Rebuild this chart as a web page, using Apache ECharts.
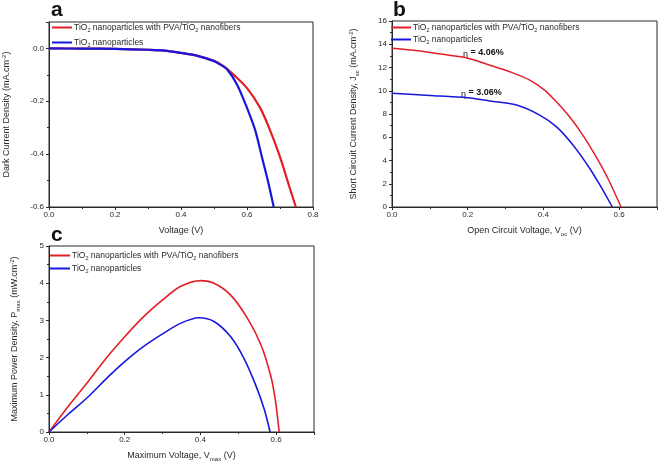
<!DOCTYPE html>
<html><head><meta charset="utf-8">
<script src="https://cdn.jsdelivr.net/npm/echarts@6/dist/echarts.min.js"></script>
<style>html,body{margin:0;padding:0;background:#fff}#c{width:658px;height:463px}</style>
</head><body><div id="c"></div>
<script>
const seriesNames = ['TiO2 nanoparticles with PVA/TiO2 nanofibers', 'TiO2 nanoparticles'];
const legendLabels = ['TiO{s|2} nanoparticles with PVA/TiO{s|2} nanofibers', 'TiO{s|2} nanoparticles'];

// Panel a: dark current density
const aRedV  = [0, 0.1, 0.2, 0.3, 0.35, 0.4, 0.45, 0.5, 0.53, 0.56, 0.6, 0.64, 0.67, 0.70, 0.725, 0.748];
const aRedJ  = [0, -0.0005, -0.002, -0.005, -0.008, -0.017, -0.028, -0.047, -0.068, -0.1, -0.15, -0.225, -0.31, -0.41, -0.51, -0.6];
const aBlueV = [0, 0.1, 0.2, 0.3, 0.35, 0.4, 0.45, 0.5, 0.52, 0.54, 0.57, 0.6, 0.625, 0.645, 0.665, 0.681];
const aBlueJ = [0, -0.0005, -0.002, -0.005, -0.008, -0.017, -0.028, -0.048, -0.062, -0.08, -0.137, -0.225, -0.31, -0.41, -0.51, -0.6];

// Panel b: J-V
const bRedV  = [0, 0.05, 0.1, 0.15, 0.2, 0.259, 0.311, 0.364, 0.403, 0.434, 0.469, 0.504, 0.539, 0.57, 0.605];
const bRedJ  = [13.65, 13.5, 13.3, 13.05, 12.8, 12.2, 11.64, 10.92, 10.06, 9.06, 7.77, 6.19, 4.33, 2.47, 0];
const bBlueV = [0, 0.1, 0.2, 0.259, 0.329, 0.39, 0.434, 0.478, 0.522, 0.557, 0.582];
const bBlueJ = [9.78, 9.6, 9.4, 9.12, 8.77, 7.91, 6.91, 5.33, 3.33, 1.46, 0];

// Panel c: power density
const cRedV  = [0, 0.05, 0.103, 0.15, 0.2, 0.25, 0.3, 0.347, 0.4, 0.436, 0.48, 0.524, 0.56, 0.586, 0.598, 0.608];
const cRedP  = [0, 0.68, 1.35, 1.97, 2.56, 3.1, 3.55, 3.91, 4.07, 4.0, 3.68, 3.06, 2.34, 1.5, 0.85, 0];
const cBlueV = [0, 0.05, 0.103, 0.15, 0.2, 0.25, 0.302, 0.347, 0.396, 0.436, 0.48, 0.515, 0.546, 0.568, 0.584];
const cBlueP = [0, 0.47, 0.94, 1.42, 1.89, 2.3, 2.65, 2.92, 3.07, 2.97, 2.56, 1.98, 1.26, 0.63, 0];

const annotations = ['{e|η} = 4.06%', '{e|η} = 3.06%'];

const zip = (a, b) => a.map((v, i) => [v, b[i]]);
const RED = '#e41e26', BLUE = '#1818dc';
const FONT = 'Liberation Sans, Arial, sans-serif';
const AX = '#2a2a2a';

const nameRich = {
  sub: { fontSize: 6, fontFamily: FONT, color: AX, verticalAlign: 'bottom', lineHeight: 12 },
  sup: { fontSize: 6, fontFamily: FONT, color: AX, verticalAlign: 'top', lineHeight: 12 }
};

function xAx(grid, max, name, gap) {
  return {
    gridIndex: grid, type: 'value', min: 0, max: max, interval: 0.2,
    axisLine: { show: true, onZero: false, lineStyle: { color: AX, width: 1 } },
    axisTick: { show: true, length: 3, lineStyle: { color: AX } },
    minorTick: { show: true, splitNumber: 2, length: 2, lineStyle: { color: AX } },
    splitLine: { show: false },
    axisLabel: { fontSize: 8, color: AX, fontFamily: FONT, margin: 4, showMaxLabel: max !== 0.7,
      formatter: v => v.toFixed(1) },
    name: name, nameLocation: 'middle', nameGap: gap,
    nameTextStyle: { fontSize: 9, color: AX, fontFamily: FONT, lineHeight: 12, rich: nameRich }
  };
}
function yAx(grid, min, max, interval, dec, name, gap, showMax) {
  return {
    gridIndex: grid, type: 'value', min: min, max: max, interval: interval,
    axisLine: { show: true, onZero: false, lineStyle: { color: AX, width: 1 } },
    axisTick: { show: true, length: 3, lineStyle: { color: AX } },
    minorTick: { show: true, splitNumber: 2, length: 2, lineStyle: { color: AX } },
    splitLine: { show: false },
    axisLabel: { fontSize: 8, color: AX, fontFamily: FONT, margin: 5, showMaxLabel: showMax,
      formatter: v => v.toFixed(dec) },
    name: name, nameLocation: 'middle', nameGap: gap, nameRotate: 90,
    nameTextStyle: { fontSize: 9, color: AX, fontFamily: FONT, lineHeight: 12, rich: nameRich }
  };
}
function legendAt(left, top, gap) {
  return {
    left: left, top: top, orient: 'vertical', itemGap: gap, itemWidth: 20, itemHeight: 2, icon: 'rect',
    selectedMode: false, padding: 0,
    data: seriesNames,
    formatter: n => legendLabels[seriesNames.indexOf(n)],
    textStyle: { fontSize: 8.5, color: AX, fontFamily: FONT, padding: [0, 0, 0, -3],
      rich: { s: { fontSize: 5.5, fontFamily: FONT, color: AX, verticalAlign: 'bottom', lineHeight: 11 } } }
  };
}
function line(name, data, xi, color, w) {
  return { type: 'line', name: name, xAxisIndex: xi, yAxisIndex: xi, data: data, showSymbol: false,
    smooth: 0.3, color: color, lineStyle: { color: color, width: w }, animation: false, silent: true };
}

const chart = echarts.init(document.getElementById('c'), null, { renderer: 'canvas' });
chart.setOption({
  animation: false,
  backgroundColor: '#fff',
  grid: [
    { left: 49, top: 22, width: 264, height: 185, show: true, borderColor: AX, borderWidth: 1, backgroundColor: 'transparent' },
    { left: 392, top: 21, width: 265, height: 186, show: true, borderColor: AX, borderWidth: 1, backgroundColor: 'transparent' },
    { left: 49, top: 246, width: 265, height: 186, show: true, borderColor: AX, borderWidth: 1, backgroundColor: 'transparent' }
  ],
  xAxis: [
    xAx(0, 0.8, 'Voltage (V)', 18),
    xAx(1, 0.7, 'Open Circuit Voltage, V{sub|oc} (V)', 18),
    xAx(2, 0.7, 'Maximum Voltage, V{sub|max} (V)', 18)
  ],
  yAxis: [
    yAx(0, -0.6, 0.1, 0.2, 1, 'Dark Current Density (mA.cm{sup|-2})', 36, false),
    yAx(1, 0, 16, 2, 0, 'Short Circuit Current Density, J{sub|sc} (mA.cm{sup|-2})', 32, true),
    yAx(2, 0, 5, 1, 0, 'Maximum Power Density, P{sub|max} (mW.cm{sup|-2})', 28, true)
  ],
  legend: [legendAt(52, 23, 5), legendAt(391, 23, 2), legendAt(50, 251, 3)],
  series: [
    line(seriesNames[0], zip(aRedV, aRedJ), 0, RED, 2.2),
    line(seriesNames[1], zip(aBlueV, aBlueJ), 0, BLUE, 2.2),
    line(seriesNames[0], zip(bRedV, bRedJ), 1, RED, 1.5),
    line(seriesNames[1], zip(bBlueV, bBlueJ), 1, BLUE, 1.5),
    line(seriesNames[0], zip(cRedV, cRedP), 2, RED, 1.6),
    line(seriesNames[1], zip(cBlueV, cBlueP), 2, BLUE, 1.6)
  ],
  graphic: [
    { type: 'text', style: { text: 'a', x: 51, y: 10, verticalAlign: 'middle', font: 'bold 21px ' + FONT, fill: '#111' } },
    { type: 'text', style: { text: 'b', x: 393, y: 10, verticalAlign: 'middle', font: 'bold 21px ' + FONT, fill: '#111' } },
    { type: 'text', style: { text: 'c', x: 51, y: 235, verticalAlign: 'middle', font: 'bold 21px ' + FONT, fill: '#111' } },
    { type: 'text', style: { text: annotations[0], x: 463, y: 53, verticalAlign: 'middle', font: 'bold 9px ' + FONT, fill: '#111',
        rich: { e: { font: '9px ' + FONT, fill: '#111', verticalAlign: 'bottom', lineHeight: 12 } } } },
    { type: 'text', style: { text: annotations[1], x: 461, y: 93, verticalAlign: 'middle', font: 'bold 9px ' + FONT, fill: '#111',
        rich: { e: { font: '9px ' + FONT, fill: '#111', verticalAlign: 'bottom', lineHeight: 12 } } } }
  ]
});
</script></body></html>
